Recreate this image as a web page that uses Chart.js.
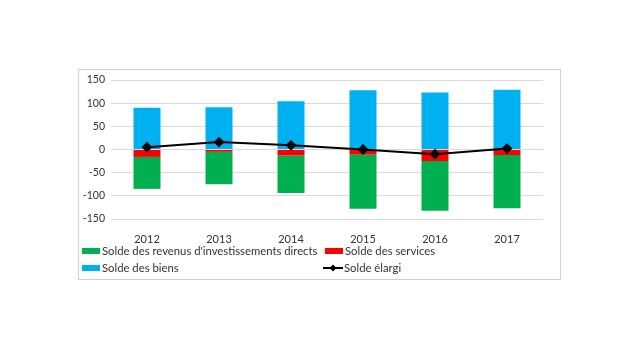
<!DOCTYPE html>
<html>
<head>
<meta charset="utf-8">
<script src="https://cdn.jsdelivr.net/npm/chart.js@4/dist/chart.umd.min.js"></script>
<style>
  body { margin: 0; background: #fff; }
  #wrap { position: relative; width: 640px; height: 350px; }
  #frame { position: absolute; left: 78px; top: 69px; width: 481px; height: 209px; border: 1px solid #d0d0d0; }
  canvas { position: absolute; left: 0; top: 0; }
  .leg { position: absolute; font: 11.3px Lato, sans-serif; color: #333; white-space: nowrap; line-height: 12px; }
  .sw { display: inline-block; width: 18px; height: 6px; vertical-align: middle; margin-right: 2px; position: relative; top: -1px; }
</style>
</head>
<body>
<div id="wrap">
  <div id="frame"></div>
  <canvas id="chart" width="640" height="350"></canvas>
  <div id="legend"></div>
</div>
<script>
const years = ['2012', '2013', '2014', '2015', '2016', '2017'];
const revenus = [-69, -70, -81, -117, -107, -115];
const services = [-16, -5, -13, -11, -25, -12];
const biens = [90, 91, 104, 128, 123, 129];
const elargi = [5, 16, 9, 0, -10, 2];
const yTicks = [150, 100, 50, 0, -50, -100, -150];

const green = '#00b050', red = '#ff0000', blue = '#00b0f0';

const ctx = document.getElementById('chart').getContext('2d');
new Chart(ctx, {
  type: 'bar',
  data: {
    labels: years,
    datasets: [
      { type: 'line', label: 'Solde élargi', data: elargi, borderColor: '#000', backgroundColor: '#000',
        borderWidth: 2, pointStyle: 'rectRot', pointRadius: 4, tension: 0, order: 0 },
      { label: 'Solde des services', data: services, backgroundColor: red, order: 1 },
      { label: "Solde des revenus d'investissements directs", data: revenus, backgroundColor: green, order: 2 },
      { label: 'Solde des biens', data: biens, backgroundColor: blue, order: 3 }
    ]
  },
  options: {
    responsive: false,
    animation: false,
    layout: { padding: { left: 78, right: 97, top: 80, bottom: 106 } },
    plugins: { legend: { display: false }, tooltip: { enabled: false } },
    datasets: { bar: { barPercentage: 0.375, categoryPercentage: 1 } },
    scales: {
      x: {
        stacked: true,
        grid: { display: false },
        border: { display: false },
        ticks: { color: '#333', font: { family: 'Lato', size: 11 }, padding: 6 },
        afterFit: s => { s.height = 25; }
      },
      y: {
        stacked: true,
        min: -150, max: 150,
        afterBuildTicks: s => { s.ticks = yTicks.map(v => ({ value: v })); },
        grid: { color: '#d9d9d9', drawTicks: false },
        border: { display: false },
        ticks: { color: '#333', font: { family: 'Lato', size: 10.5 }, padding: 6 },
        afterFit: s => { s.width = 33; }
      }
    }
  }
});

// legend in two columns, like the original
const legendItems = [
  { text: "Solde des revenus d'investissements directs", color: green, x: 82, y: 245 },
  { text: 'Solde des services', color: red, x: 325, y: 245 },
  { text: 'Solde des biens', color: blue, x: 82, y: 262 },
  { text: 'Solde élargi', color: '#000', x: 323, y: 262, line: true }
];
const leg = document.getElementById('legend');
legendItems.forEach(it => {
  const d = document.createElement('div');
  d.className = 'leg';
  d.style.left = it.x + 'px';
  d.style.top = it.y + 'px';
  if (it.line) {
    d.innerHTML = '<svg width="20" height="8" style="vertical-align:middle;margin-right:1px;position:relative;top:-1px">' +
      '<line x1="0" y1="4" x2="20" y2="4" stroke="#000" stroke-width="2"/>' +
      '<rect x="7.5" y="1.5" width="5" height="5" fill="#000" transform="rotate(45 10 4)"/></svg>';
  } else {
    d.innerHTML = '<span class="sw" style="background:' + it.color + '"></span>';
  }
  d.appendChild(document.createTextNode(it.text));
  leg.appendChild(d);
});
</script>
</body>
</html>
